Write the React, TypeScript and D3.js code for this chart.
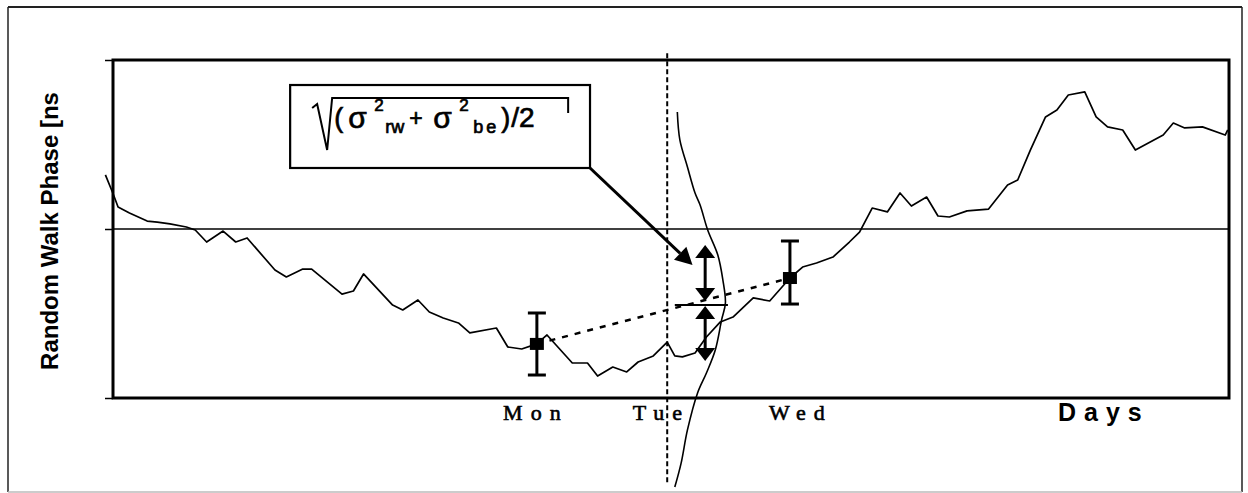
import { useEffect, useRef } from "react";
import * as d3 from "d3";

// random walk phase (x in days, Mon = 1)
const walkDays = [
  -2.41, -2.35, -2.31, -2.22, -2.08, -2.0, -1.9, -1.77, -1.7, -1.61, -1.48, -1.38, -1.29, -1.07, -0.98,
  -0.85, -0.78, -0.54, -0.45, -0.37, -0.14, -0.06, 0.06, 0.15, 0.26, 0.38, 0.47, 0.68, 0.77, 0.88, 1.0,
  1.08, 1.28, 1.4, 1.48, 1.6, 1.71, 1.8, 1.92, 2.03, 2.09, 2.15, 2.25, 2.34, 2.45, 2.55, 2.71, 2.84, 3.0,
  3.1, 3.21, 3.34, 3.47, 3.55, 3.65, 3.77, 3.87, 3.96, 4.08, 4.17, 4.26, 4.4, 4.57, 4.72, 4.8, 4.9, 5.02,
  5.11, 5.2, 5.33, 5.42, 5.51, 5.63, 5.73, 5.95, 6.03, 6.12, 6.26, 6.44, 6.46,
];
const walkPhase = [
  0.32, 0.21, 0.13, 0.095, 0.047, 0.041, 0.03, 0.012, -0.006, -0.077, -0.012, -0.077, -0.053, -0.243,
  -0.284, -0.237, -0.237, -0.385, -0.367, -0.266, -0.45, -0.479, -0.42, -0.491, -0.527, -0.556, -0.615,
  -0.586, -0.698, -0.71, -0.68, -0.627, -0.793, -0.793, -0.87, -0.817, -0.846, -0.787, -0.751, -0.669,
  -0.751, -0.757, -0.734, -0.639, -0.55, -0.521, -0.408, -0.426, -0.29, -0.225, -0.201, -0.166, -0.077,
  -0.018, 0.124, 0.101, 0.213, 0.136, 0.189, 0.077, 0.071, 0.107, 0.118, 0.26, 0.29, 0.467, 0.663, 0.704,
  0.793, 0.811, 0.663, 0.604, 0.586, 0.467, 0.556, 0.627, 0.598, 0.604, 0.556, 0.586,
];

// measurements with error bars
const markerDays = [1, 3];
const markerPhase = [-0.68, -0.29];
const markerLow = [-0.864, -0.444];
const markerHigh = [-0.497, -0.071];

// estimate distribution on Tue (bell curve)
const gaussPhase = [0.692, 0.527, 0.367, 0.213, 0.142, -0.006, -0.154, -0.302, -0.438, -0.538, -0.716, -0.852, -0.97, -1.189, -1.385, -1.527];
const gaussDays = [2.11, 2.13, 2.19, 2.25, 2.29, 2.35, 2.43, 2.47, 2.49, 2.46, 2.41, 2.34, 2.27, 2.19, 2.14, 2.09];

const estimateDay = 2.33;
const estimateCenter = -0.45;
const estimateTop = -0.095;
const estimateBottom = -0.781;
const estimateSpan = [2.09, 2.51];

const tueLineDay = 2.03;
const tueLineRange = [1.04, -1.515];

const dayTicks = [1, 2, 3];
const dayLabels = ["Mon", "Tue", "Wed"];
const yTicks = [-1, 0, 1];

// formula box corners (days / phase)
const boxDays = [-0.95, 1.42];
const boxPhase = [0.852, 0.361];
const arrowTip = [2.23, -0.213];

const W = 1248;
const H = 493;

const App = () => {
  const axisRef = useRef<SVGGElement>(null);

  const x = d3.scaleLinear().domain([-2.35, 6.47]).range([113, 1229]);
  const y = d3.scaleLinear().domain([-1, 1]).range([398, 60]);

  useEffect(() => {
    const g = d3.select(axisRef.current);
    g.call(
      d3
        .axisLeft(y)
        .tickValues(yTicks)
        .tickSize(8)
        .tickFormat(() => "")
    );
    g.select(".domain").remove();
    g.selectAll(".tick line").attr("stroke", "#000").attr("stroke-width", 1.5);
  }, []);

  const walkLine = d3
    .line<number>()
    .x((d, i) => x(walkDays[i]))
    .y((d) => y(d));

  const gaussLine = d3
    .line<number>()
    .x((d, i) => x(gaussDays[i]))
    .y((d) => y(d))
    .curve(d3.curveCatmullRom);

  // box arrow
  const bx0 = x(boxDays[0]);
  const bx1 = x(boxDays[1]);
  const by0 = y(boxPhase[0]);
  const by1 = y(boxPhase[1]);
  const tx = x(arrowTip[0]);
  const ty = y(arrowTip[1]);
  const ang = Math.atan2(ty - by1, tx - bx1);
  const headLen = 17;
  const headW = 9;
  const baseX = tx - headLen * Math.cos(ang);
  const baseY = ty - headLen * Math.sin(ang);
  const head = [
    [tx, ty],
    [baseX + headW * Math.sin(ang), baseY - headW * Math.cos(ang)],
    [baseX - headW * Math.sin(ang), baseY + headW * Math.cos(ang)],
  ];

  const ex = x(estimateDay);
  const ec = y(estimateCenter);
  const tri = (apexY: number, dir: number) =>
    `M${ex},${apexY} L${ex - 10},${apexY + dir * 13} L${ex + 10},${apexY + dir * 13} Z`;

  const labelNudge = [-5, -6, 7];

  return (
    <svg width={W} height={H} style={{ position: "absolute", left: 0, top: 0, background: "#fff" }}>
      {/* outer frame */}
      <line x1={8} y1={7} x2={1242} y2={7} stroke="#222" strokeWidth={1.8} />
      <line x1={8} y1={7} x2={8} y2={492} stroke="#222" strokeWidth={1.5} />
      <line x1={1242} y1={7} x2={1242} y2={492} stroke="#222" strokeWidth={1.5} />
      <line x1={8} y1={492} x2={1242} y2={492} stroke="#bbb" strokeWidth={1.5} />

      {/* y axis ticks + zero line */}
      <g ref={axisRef} transform="translate(113,0)" />
      <line x1={113} x2={1229} y1={y(0)} y2={y(0)} stroke="#000" strokeWidth={1.5} />

      {/* plot frame */}
      <rect x={113} y={60} width={1229 - 113} height={398 - 60} fill="none" stroke="#000" strokeWidth={3} />

      {/* random walk */}
      <path d={walkLine(walkPhase) ?? ""} fill="none" stroke="#000" strokeWidth={1.7} strokeLinejoin="round" />

      {/* Tue dashed line */}
      <line
        x1={x(tueLineDay)}
        x2={x(tueLineDay)}
        y1={y(tueLineRange[0])}
        y2={y(tueLineRange[1])}
        stroke="#000"
        strokeWidth={2}
        strokeDasharray="5,3"
      />

      {/* gaussian */}
      <path d={gaussLine(gaussPhase) ?? ""} fill="none" stroke="#000" strokeWidth={1.6} />

      {/* dashed trend between measurements */}
      <line
        x1={x(markerDays[0])}
        y1={y(markerPhase[0])}
        x2={x(markerDays[1])}
        y2={y(markerPhase[1])}
        stroke="#000"
        strokeWidth={2.5}
        strokeDasharray="6,7"
      />

      {/* error bars */}
      {markerDays.map((d, i) => (
        <g key={i}>
          <line x1={x(d)} x2={x(d)} y1={y(markerLow[i])} y2={y(markerHigh[i])} stroke="#000" strokeWidth={3} />
          <line x1={x(d) - 9} x2={x(d) + 9} y1={y(markerLow[i])} y2={y(markerLow[i])} stroke="#000" strokeWidth={3} />
          <line x1={x(d) - 9} x2={x(d) + 9} y1={y(markerHigh[i])} y2={y(markerHigh[i])} stroke="#000" strokeWidth={3} />
          <rect x={x(d) - 7} y={y(markerPhase[i]) - 6} width={14} height={12} fill="#000" />
        </g>
      ))}

      {/* estimate with +- sigma arrows */}
      <line x1={x(estimateSpan[0])} x2={x(estimateSpan[1])} y1={ec} y2={ec} stroke="#000" strokeWidth={2} />
      <line x1={ex} x2={ex} y1={y(estimateTop) + 10} y2={ec - 14} stroke="#000" strokeWidth={3} />
      <path d={tri(y(estimateTop), 1)} fill="#000" />
      <path d={tri(ec - 4, -1)} fill="#000" />
      <line x1={ex} x2={ex} y1={ec + 12} y2={y(estimateBottom) - 12} stroke="#000" strokeWidth={3} />
      <path d={tri(ec + 1, 1)} fill="#000" />
      <path d={tri(y(estimateBottom), -1)} fill="#000" />

      {/* formula box */}
      <rect x={bx0} y={by0} width={bx1 - bx0} height={by1 - by0} fill="#fff" stroke="#000" strokeWidth={2.2} />
      <path
        d={`M${bx0 + 22},${by0 + 23} L${bx0 + 27},${by0 + 19} L${bx0 + 37},${by0 + 65} L${bx0 + 42},${by0 + 13} L${bx0 + 278},${by0 + 13} L${bx0 + 278},${by0 + 28}`}
        fill="none"
        stroke="#000"
        strokeWidth={2}
      />
      <g fontFamily="'Liberation Sans', Arial, sans-serif" fill="#000" stroke="#000" strokeWidth={0.7}>
        <text x={bx0 + 44} y={by0 + 42} fontSize={27}>(</text>
        <text x={bx0 + 58} y={by0 + 43} fontSize={30}>σ</text>
        <text x={bx0 + 84} y={by0 + 26} fontSize={17}>2</text>
        <text x={bx0 + 95} y={by0 + 48} fontSize={18}>rw</text>
        <text x={bx0 + 119} y={by0 + 41} fontSize={23}>+</text>
        <text x={bx0 + 143} y={by0 + 43} fontSize={30}>σ</text>
        <text x={bx0 + 169} y={by0 + 26} fontSize={17}>2</text>
        <text x={bx0 + 183} y={by0 + 48} fontSize={18} letterSpacing={3}>be</text>
        <text x={bx0 + 211} y={by0 + 42} fontSize={27}>)</text>
        <text x={bx0 + 221} y={by0 + 42} fontSize={28}>/2</text>
      </g>

      {/* box arrow */}
      <line x1={bx1} y1={by1} x2={baseX} y2={baseY} stroke="#000" strokeWidth={3} />
      <polygon points={head.map((p) => p.join(",")).join(" ")} fill="#000" />

      {/* day labels */}
      {dayTicks.map((d, i) => (
        <text
          key={d}
          x={x(d) + labelNudge[i] + 4}
          y={420}
          textAnchor="middle"
          fontFamily="'Liberation Serif', 'Times New Roman', serif"
          fontSize={22}
          letterSpacing={8}
          stroke="#000"
          strokeWidth={0.6}
        >
          {dayLabels[i]}
        </text>
      ))}
      <text
        x={1058}
        y={421}
        fontFamily="'Liberation Sans', Arial, sans-serif"
        fontWeight="bold"
        fontSize={25}
        letterSpacing={8}
      >
        Days
      </text>

      {/* y label */}
      <text
        transform="translate(58,231) rotate(-90)"
        textAnchor="middle"
        fontFamily="'Liberation Sans', Arial, sans-serif"
        fontWeight="bold"
        fontSize={24}
      >
        Random Walk Phase [ns
      </text>
    </svg>
  );
};

export default App;
